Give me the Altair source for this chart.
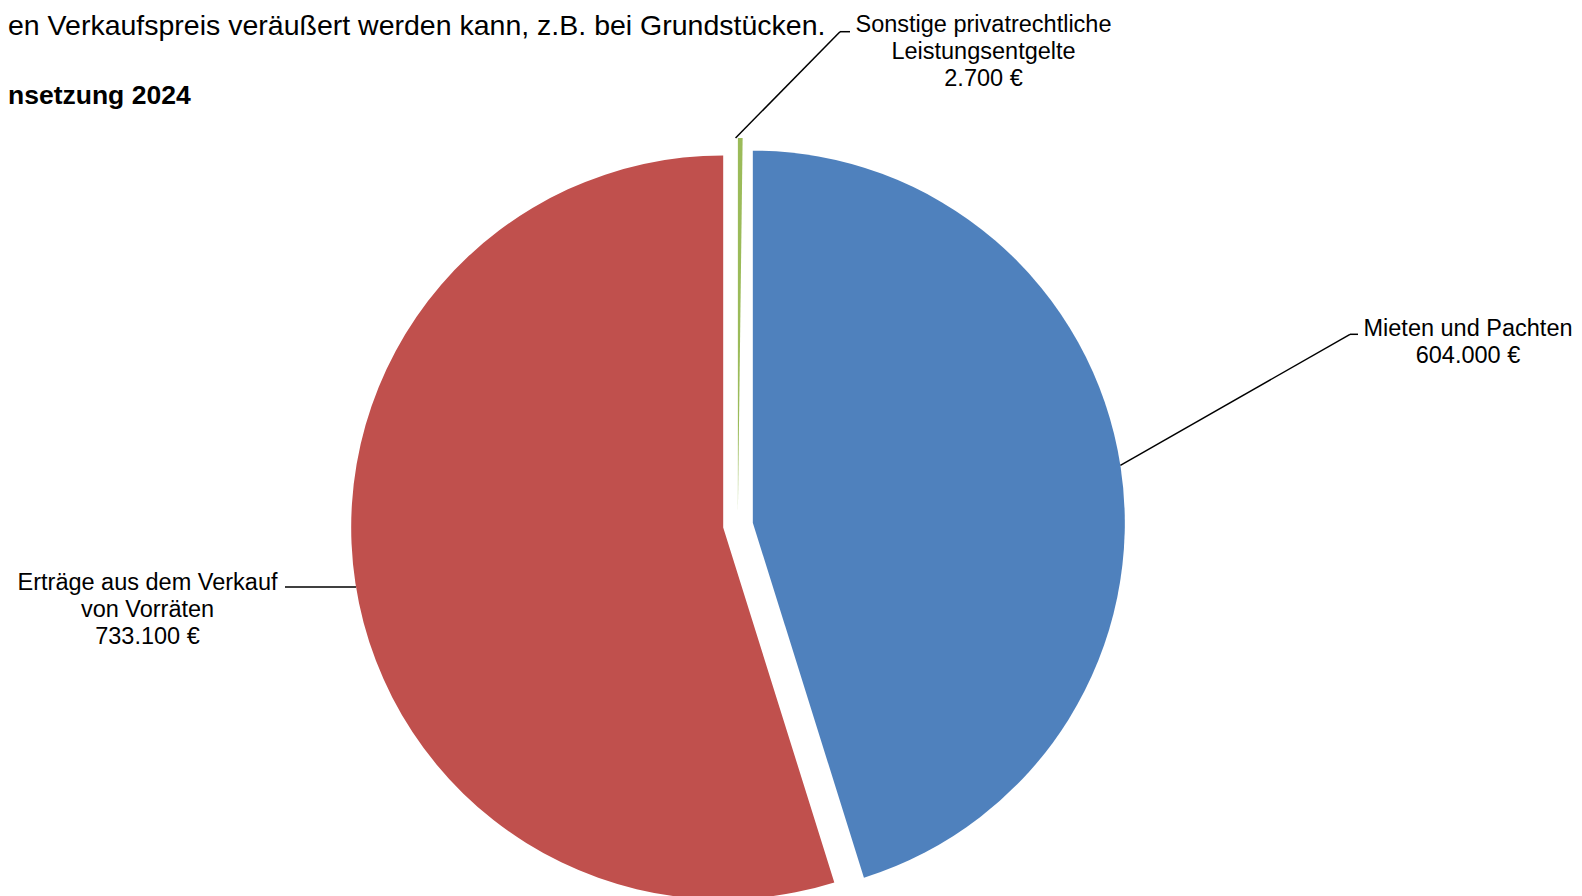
import altair as alt
import pandas as pd

# ---------------- data ----------------
categories = [
    "Mieten und Pachten",
    "Erträge aus dem Verkauf von Vorräten",
    "Sonstige privatrechtliche Leistungsentgelte",
]
label_lines = [
    ["Mieten und Pachten"],
    ["Erträge aus dem Verkauf", "von Vorräten"],
    ["Sonstige privatrechtliche", "Leistungsentgelte"],
]
values = [604000, 733100, 2700]
header_lines = [
    "en Verkaufspreis veräußert werden kann, z.B. bei Grundstücken.",
    "nsetzung 2024",
]

# ---------------- styles / layout ----------------
colors = ["#4F81BD", "#C0504D", "#9BBB59"]
W, H = 1566, 888
CX, CY = 730, 517          # pie centre (px)
R = 372                    # pie radius
EXPLODE = 15               # slice explosion distance
FONT = "Liberation Sans"
LABEL_SIZE = 23.5
LINE_H = 27
# label placement (text centre x, first baseline y, elbow x/y, tail x)
label_text_x = [1460, 139.5, 975.5]
label_text_y = [327.7, 581.7, 23.7]
elbow_x = [1342, 281, 832]
elbow_y = [326.3, 579, 23.7]
tail_x = [1350, 277, 842]


def euro(v):
    return f"{v:,}".replace(",", ".") + " €"


df = pd.DataFrame({
    "idx": list(range(len(categories))),
    "category": categories,
    "value": values,
    "lines": [l + [euro(v)] for l, v in zip(label_lines, values)],
    "tx": label_text_x,
    "ty": label_text_y,
    "ex": elbow_x,
    "ey": elbow_y,
    "hx": tail_x,
})

base = (
    alt.Chart(df)
    .transform_window(cum_end="sum(value)", sort=[alt.SortField("idx")], frame=[None, 0])
    .transform_calculate(cum_start="datum.cum_end - datum.value")
    .transform_joinaggregate(total="sum(value)")
    .transform_calculate(mid="PI * (datum.cum_start + datum.cum_end) / datum.total")
    .transform_calculate(cx=f"{CX} + {EXPLODE} * sin(datum.mid)")
    .transform_calculate(cy=f"{CY} - {EXPLODE} * cos(datum.mid)")
    .transform_calculate(sx=f"{CX} + {R + EXPLODE} * sin(datum.mid)")
    .transform_calculate(sy=f"{CY} - {R + EXPLODE} * cos(datum.mid)")
)

arcs = base.mark_arc(outerRadius=R).encode(
    theta=alt.Theta("cum_start:Q", scale=alt.Scale(nice=False, zero=True)),
    theta2="cum_end:Q",
    x=alt.X("cx:Q", scale=None),
    y=alt.Y("cy:Q", scale=None),
    color=alt.Color("category:N", scale=alt.Scale(domain=categories, range=colors), legend=None),
)

leader1 = base.mark_rule(color="black", strokeWidth=1.5).encode(
    x=alt.X("sx:Q", scale=None),
    y=alt.Y("sy:Q", scale=None),
    x2="ex:Q",
    y2="ey:Q",
)
leader2 = base.mark_rule(color="black", strokeWidth=1.5).encode(
    x=alt.X("ex:Q", scale=None),
    y=alt.Y("ey:Q", scale=None),
    x2="hx:Q",
    y2="ey:Q",
)

labels = base.mark_text(
    align="center", baseline="alphabetic", font=FONT, fontSize=LABEL_SIZE,
    lineHeight=LINE_H, color="black",
).encode(
    x=alt.X("tx:Q", scale=None),
    y=alt.Y("ty:Q", scale=None),
    text="lines",
)

hdr = pd.DataFrame({"t": header_lines})
header1 = alt.Chart(hdr).transform_filter(alt.datum.t == header_lines[0]).mark_text(
    align="left", baseline="alphabetic", font=FONT, fontSize=28.5, color="black",
).encode(x=alt.value(0), y=alt.value(26.5), text="t:N")
header2 = alt.Chart(hdr).transform_filter(alt.datum.t == header_lines[1]).mark_text(
    align="left", baseline="alphabetic", font=FONT, fontSize=26.5, fontWeight="bold", color="black",
).encode(x=alt.value(0), y=alt.value(95.7), text="t:N")

chart = (
    alt.layer(arcs, leader1, leader2, labels, header1, header2)
    .properties(width=W, height=H, autosize=alt.AutoSizeParams(type="none"), padding=0,
                background="white")
    .configure_view(stroke=None)
)

chart.save("out.html", embed_options={"renderer": "svg", "actions": False})
